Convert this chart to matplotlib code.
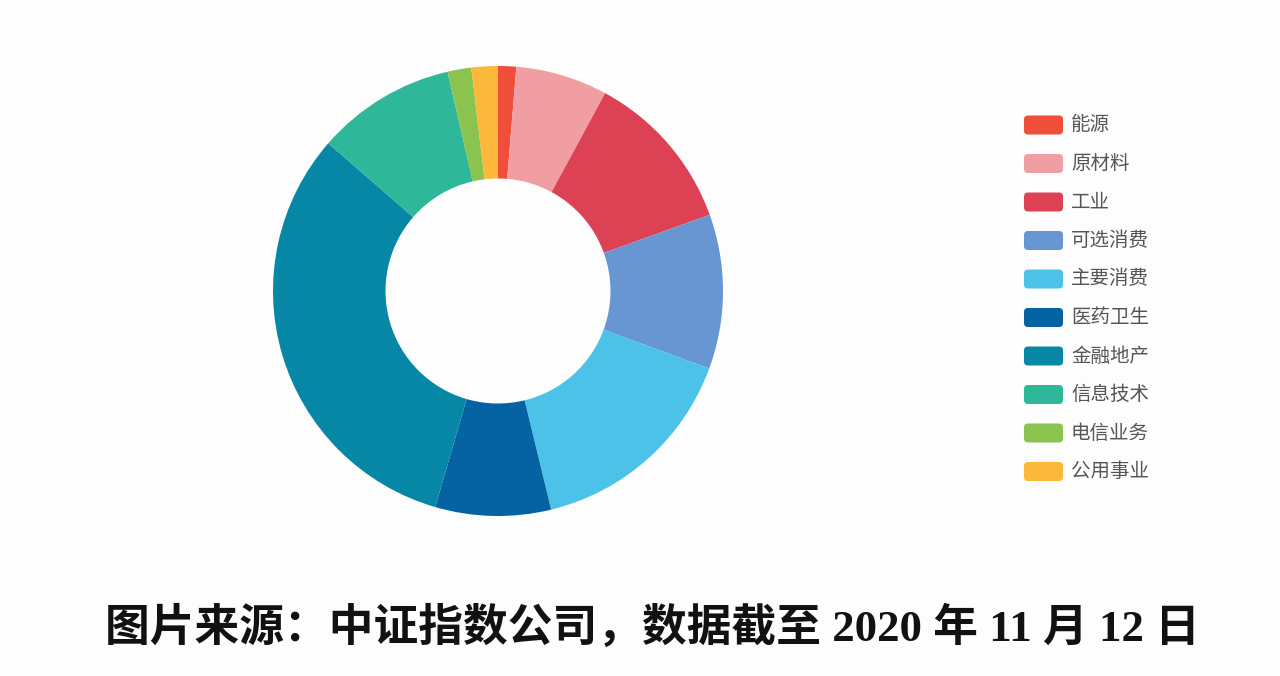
import matplotlib
matplotlib.use('Agg')
import matplotlib.pyplot as plt
from matplotlib.patches import FancyBboxPatch

plt.rcParams['font.family'] = ['Noto Sans CJK SC', 'DejaVu Sans']

sectors = ['能源', '原材料', '工业', '可选消费', '主要消费', '医药卫生',
           '金融地产', '信息技术', '电信业务', '公用事业']
weights = [1.3, 6.6, 11.6, 11.1, 15.6, 8.3, 31.9, 10.0, 1.7, 1.9]
colors = ['#ef4f3a', '#f19ea2', '#dc4254', '#6796d2', '#4cc2e9',
          '#0563a3', '#0787a6', '#2fb799', '#8bc34f', '#fbb83a']
caption = '图片来源：中证指数公司，数据截至 2020 年 11 月 12 日'

W, H = 1280, 676
fig = plt.figure(figsize=(W / 100, H / 100), dpi=100)
fig.patch.set_facecolor('#fdfdfd')

# donut
cx, cy, R = 498, 291, 225
ax = fig.add_axes([(cx - R) / W, (H - cy - R) / H, 2 * R / W, 2 * R / H])
ax.pie(weights, colors=colors, startangle=90, counterclock=False,
       radius=1, wedgeprops=dict(width=0.5, edgecolor='none'))
ax.set_xlim(-1, 1)
ax.set_ylim(-1, 1)
ax.set_aspect('equal')
ax.axis('off')

# legend, drawn in pixel coords
lg = fig.add_axes([0, 0, 1, 1])
lg.set_xlim(0, W)
lg.set_ylim(H, 0)
lg.axis('off')
y0, step = 125, 38.5
for i, (name, c) in enumerate(zip(sectors, colors)):
    y = y0 + i * step
    lg.add_patch(FancyBboxPatch((1024, y - 9.5), 39, 19,
                                boxstyle='round,pad=0,rounding_size=4',
                                fc=c, ec='none'))
    lg.text(1071, y, name, fontsize=14, color='#555555',
            va='center', ha='left')

lg.text(652, 628, caption, fontsize=32.2, color='#111111', weight='bold',
        family=['Liberation Serif', 'Noto Sans CJK SC'],
        ha='center', va='center')

fig.savefig('out.png', dpi=100, facecolor=fig.get_facecolor())
